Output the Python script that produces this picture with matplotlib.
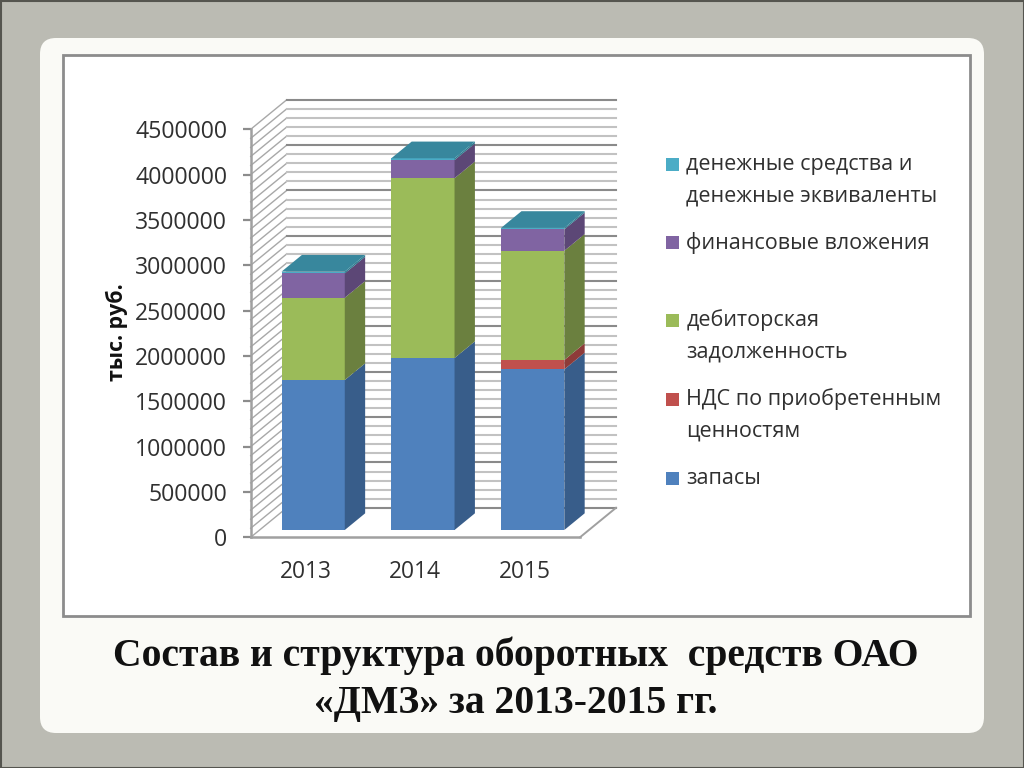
import matplotlib
matplotlib.use("Agg")
import matplotlib.pyplot as plt
from matplotlib.patches import FancyBboxPatch, Rectangle
import numpy as np

# ---------- data ----------
years = ["2013", "2014", "2015"]
zapasy = [1654000, 1897000, 1772000]
nds = [0, 0, 103000]
debitor = [908000, 1983000, 1205000]
finans = [268000, 200000, 236000]
dengi = [20000, 20000, 16000]
y_ticks = [0, 500000, 1000000, 1500000, 2000000, 2500000, 3000000, 3500000, 4000000, 4500000]
minor_step = 100000
y_label = "тыс. руб."
title_lines = ["Состав и структура оборотных  средств ОАО", "«ДМЗ» за 2013-2015 гг."]
legend_labels = ["денежные средства и\nденежные эквиваленты", "финансовые вложения",
                 "дебиторская\nзадолженность", "НДС по приобретенным\nценностям", "запасы"]

# ---------- styles ----------
FONT = "Open Sans"
series = [zapasy, nds, debitor, finans, dengi]
front_cols = ["#4F81BD", "#C0504D", "#9BBB59", "#8064A2", "#4BACC6"]
side_cols = ["#385D8A", "#8E3B39", "#6B803F", "#5C4776", "#2F7E92"]
top_col = "#38879D"
legend_cols = ["#4BACC6", "#8064A2", "#9BBB59", "#C0504D", "#4F81BD"]
legend_y = [164, 242, 320, 399, 478]

W, H = 1024, 768
fig = plt.figure(figsize=(W / 100, H / 100), dpi=100, facecolor="#BBBBB3")

# slide furniture in pixel coordinates
bg = fig.add_axes([0, 0, 1, 1], zorder=0)
bg.set_xlim(0, W)
bg.set_ylim(H, 0)
bg.axis("off")
bg.add_patch(Rectangle((0.5, 0.5), W - 1, H - 1, fc="none", ec="#55554F", lw=1.5))
bg.add_patch(FancyBboxPatch((52, 50), 920, 671, boxstyle="round,pad=12,rounding_size=16",
                            fc="#FAFAF6", ec="none"))
bg.add_patch(Rectangle((63, 55), 907, 561, fc="white", ec="#8C8C8C", lw=2))
for i, line in enumerate(title_lines):
    bg.text(516, 656 + i * 48, line, ha="center", va="center", family="Liberation Serif",
            weight="bold", fontsize=28.5, color="#111111")
for lab, col, ly in zip(legend_labels, legend_cols, legend_y):
    bg.add_patch(Rectangle((666, ly - 6.5), 13, 13, fc=col, ec="none"))
    ty = ly + 16 if "\n" in lab else ly + 1
    bg.text(686.5, ty, lab, ha="left", va="center", family=FONT, fontsize=15.5,
            color="#303030", linespacing=1.68)
bg.text(117, 332, y_label, rotation=90, ha="center", va="center", family=FONT,
        weight="bold", fontsize=15.4, color="#111111")

# chart axes
x0, x1, y0, y1 = 250.7, 580.0, 537.3, 129.3
ax = fig.add_axes([x0 / W, 1 - y0 / H, (x1 - x0) / W, (y0 - y1) / H], zorder=1)
ax.patch.set_alpha(0)
ax.set_xlim(-0.5, 2.5)
ax.set_ylim(0, 4500000)
DX = 36.0 * 3 / (x1 - x0)               # depth shift, category units
DY = 29.5 * 4500000 / (y0 - y1)         # depth shift, value units
for s in ("top", "right"):
    ax.spines[s].set_visible(False)
for s in ("left", "bottom"):
    ax.spines[s].set_color("#A0A0A0")
    ax.spines[s].set_linewidth(1.8)
    ax.spines[s].set_zorder(3)
ax.set_yticks(y_ticks)
ax.set_yticklabels([str(v) for v in y_ticks], family=FONT, fontsize=16.6, color="#303030")
ax.tick_params(axis="y", length=6, width=1.6, color="#8C8C8C", pad=11)
ax.set_xticks(range(len(years)))
ax.set_xticklabels(years, family=FONT, fontsize=16.4, color="#303030")
ax.tick_params(axis="x", length=0, pad=16.5)

# walls
for v in np.arange(0, y_ticks[-1] + 1, minor_step):
    major = v % 500000 == 0
    c = "#8A8A8A" if major else "#C2C2C2"
    ax.plot([-0.5, -0.5 + DX], [v, v + DY], color="#A8A8A8", lw=1.0, clip_on=False, zorder=1)
    ax.plot([-0.5 + DX, 2.5 + DX], [v + DY, v + DY], color=c, lw=1.5, clip_on=False, zorder=1)
ax.plot([2.5, 2.5 + DX], [0, DY], color="#A0A0A0", lw=1.4, clip_on=False, zorder=1)

# bars (oblique projection, expressed in data units)
d0, d1 = 0.247, 0.813
bar_w = 0.576
bar_shift = -0.012
for i in range(len(years)):
    xl = i - bar_w / 2 + bar_shift + d0 * DX
    xr = xl + bar_w
    sd = d1 - d0
    base = 0.0
    for vals, fc, sc in zip(series, front_cols, side_cols):
        v = vals[i]
        if v == 0:
            continue
        yb = base + d0 * DY
        ax.bar(xl, v, width=bar_w, bottom=yb, align="edge", color=fc, lw=0, zorder=4, clip_on=False)
        ax.fill([xr, xr + sd * DX, xr + sd * DX, xr],
                [yb, yb + sd * DY, yb + v + sd * DY, yb + v],
                color=sc, lw=0, zorder=4, clip_on=False)
        base += v
    yt = base + d0 * DY
    ax.fill([xl, xr, xr + sd * DX, xl + sd * DX], [yt, yt, yt + sd * DY, yt + sd * DY],
            color=top_col, lw=0, zorder=4, clip_on=False)

fig.savefig("out.png", dpi=100, facecolor=fig.get_facecolor())
